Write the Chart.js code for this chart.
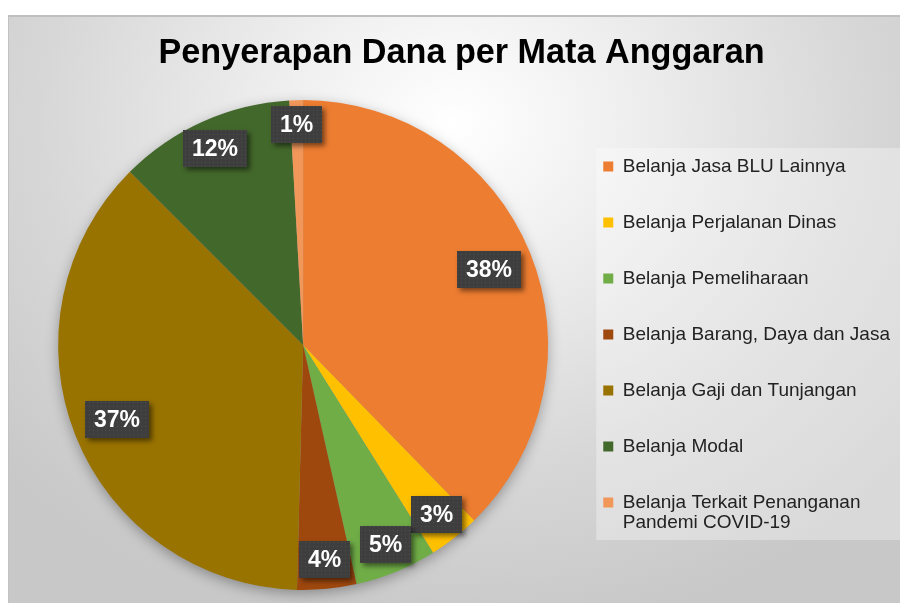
<!DOCTYPE html>
<html>
<head>
<meta charset="utf-8">
<script src="https://cdn.jsdelivr.net/npm/chart.js@4.4.1/dist/chart.umd.min.js"></script>
<style>
  html, body { margin: 0; padding: 0; background: #fff; }
  #frame {
    position: absolute; left: 8px; top: 15px; width: 892px; height: 586px;
    border-top: 2px solid #bfbfbf;
    background: radial-gradient(ellipse 68% 88% at 50% 18%, #ffffff 0%, #f1f1f1 25%, #d7d7d7 68%, #c8c8c8 100%);
  }
  #frame canvas { position: absolute; left: 0; top: 0; }
  #edge { position: absolute; left: 0; top: 0; width: 1px; height: 586px; background: #c2c2c2; }
</style>
</head>
<body>
<div id="frame"><div id="edge"></div><canvas id="pieChart" width="892" height="586"></canvas></div>
<script>
var labels = [
    'Belanja Jasa BLU Lainnya',
    'Belanja Perjalanan Dinas',
    'Belanja Pemeliharaan',
    'Belanja Barang, Daya dan Jasa',
    'Belanja Gaji dan Tunjangan',
    'Belanja Modal',
    ['Belanja Terkait Penanganan', 'Pandemi COVID-19']
];
var values = [37.7, 3.4, 5.4, 3.9, 37.1, 11.6, 0.9];
var colors = ['#ED7D31', '#FFC000', '#70AD47', '#9E480E', '#997300', '#43682B', '#F1975A'];

var fontFamily = "'Liberation Sans', Arial, sans-serif";

// little dotted texture for the label boxes
var dotCanvas = document.createElement('canvas');
dotCanvas.width = 4;
dotCanvas.height = 4;
var dctx = dotCanvas.getContext('2d');
dctx.fillStyle = '#3e3e3e';
dctx.fillRect(0, 0, 4, 4);
dctx.fillStyle = '#4e4e4e';
dctx.fillRect(1, 1, 1, 1);

// title is centred on the whole frame, not on the padded area
var titleCenter = {
    id: 'titleCenter',
    afterLayout: function(chart) {
        if (!chart.titleBlock) return;
        chart.titleBlock.left = 15;
        chart.titleBlock.right = chart.width;
    }
};

var legendBox = {
    id: 'legendBox',
    beforeDraw: function(chart) {
        var hb = chart.legend.legendHitBoxes;
        if (!hb || !hb.length) return;
        var ctx = chart.ctx;
        var last = hb[hb.length - 1];
        var left = hb[0].left - 7;
        var top = hb[0].top - 9;
        var bottom = last.top + last.height + 7;
        ctx.save();
        ctx.fillStyle = 'rgba(255,255,255,0.32)';
        ctx.fillRect(left, top, chart.width - left, bottom - top);
        ctx.restore();
    }
};

var pieShadow = {
    id: 'pieShadow',
    beforeDatasetsDraw: function(chart) {
        var arc = chart.getDatasetMeta(0).data[0];
        if (!arc) return;
        var ctx = chart.ctx;
        ctx.save();
        ctx.shadowColor = 'rgba(0,0,0,0.35)';
        ctx.shadowBlur = 14;
        ctx.shadowOffsetY = 4;
        ctx.fillStyle = '#999';
        ctx.beginPath();
        ctx.arc(arc.x, arc.y, arc.outerRadius - 1, 0, Math.PI * 2);
        ctx.fill();
        ctx.restore();
    }
};

var pctLabels = {
    id: 'pctLabels',
    afterDatasetsDraw: function(chart) {
        var ctx = chart.ctx;
        var meta = chart.getDatasetMeta(0);
        var total = values.reduce(function(a, b) { return a + b; }, 0);
        var pattern = ctx.createPattern(dotCanvas, 'repeat');
        meta.data.forEach(function(arc, i) {
            var mid = (arc.startAngle + arc.endAngle) / 2;
            var frac = values[i] > 20 ? 0.82 : (values[i] < 2 ? 0.9 : 0.88);
            var cx = arc.x + Math.cos(mid) * arc.outerRadius * frac;
            var cy = arc.y + Math.sin(mid) * arc.outerRadius * frac;
            var text = Math.round(values[i] / total * 100) + '%';
            ctx.save();
            ctx.font = 'bold 23px ' + fontFamily;
            var w = Math.round(ctx.measureText(text).width + 18);
            var h = 37;
            var x0 = Math.round(cx - w / 2), y0 = Math.round(cy - h / 2);
            ctx.shadowColor = 'rgba(0,0,0,0.5)';
            ctx.shadowBlur = 5;
            ctx.shadowOffsetX = 3;
            ctx.shadowOffsetY = 3;
            ctx.fillStyle = '#404040';
            ctx.fillRect(x0, y0, w, h);
            ctx.shadowColor = 'transparent';
            ctx.fillStyle = pattern;
            ctx.fillRect(x0, y0, w, h);
            ctx.fillStyle = '#ffffff';
            ctx.textAlign = 'center';
            ctx.textBaseline = 'middle';
            ctx.fillText(text, x0 + w / 2, y0 + h / 2 + 1);
            ctx.restore();
        });
    }
};

var ctx = document.getElementById('pieChart').getContext('2d');
var pieChart = new Chart(ctx, {
    type: 'pie',
    data: {
        labels: labels,
        datasets: [{
            data: values,
            backgroundColor: colors,
            hoverBackgroundColor: colors,
            borderWidth: 0
        }]
    },
    plugins: [titleCenter, legendBox, pieShadow, pctLabels],
    options: {
        responsive: false,
        animation: false,
        layout: { padding: { left: 32, right: 0, top: 0, bottom: 13 } },
        plugins: {
            title: {
                display: true,
                text: 'Penyerapan Dana per Mata Anggaran',
                color: '#000',
                font: { family: fontFamily, size: 34.2, weight: 'bold' },
                padding: { top: 16, bottom: 26 }
            },
            legend: {
                display: true,
                position: 'right',
                fullSize: false,
                maxWidth: 336.5,
                labels: {
                    boxWidth: 10,
                    boxHeight: 10,
                    padding: 37,
                    color: '#222',
                    font: { family: fontFamily, size: 19, lineHeight: 1.05 }
                }
            },
            tooltip: { enabled: false }
        }
    }
});
</script>
</body>
</html>
